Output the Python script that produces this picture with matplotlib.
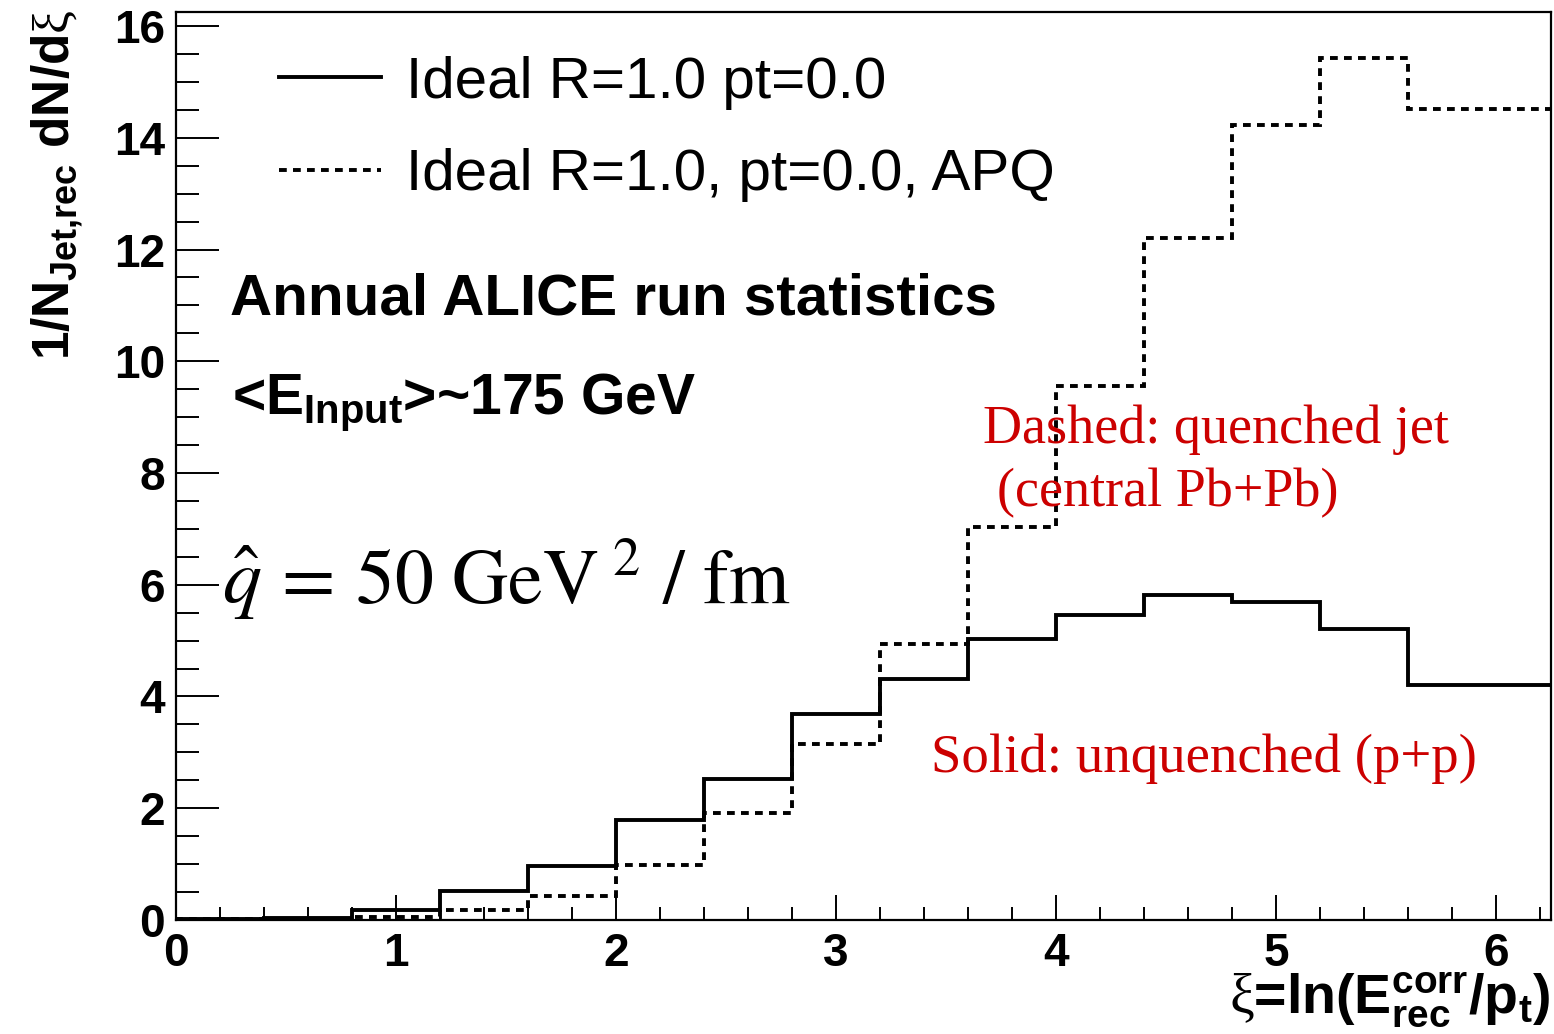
import numpy as np
import matplotlib
matplotlib.use('Agg')
import matplotlib.pyplot as plt

# bin edges in xi and normalised yields per bin
xi_edges = [0.0, 0.4, 0.8, 1.2, 1.6, 2.0, 2.4, 2.8, 3.2, 3.6, 4.0, 4.4, 4.8, 5.2, 5.6, 6.0, 6.4]
dn_pp = [0.01, 0.03, 0.18, 0.51, 0.96, 1.79, 2.52, 3.68, 4.31, 5.02, 5.45, 5.82, 5.70, 5.20, 4.20, 4.20]
dn_apq = [0.01, 0.02, 0.05, 0.18, 0.43, 0.99, 1.92, 3.15, 4.94, 7.03, 9.55, 12.20, 14.23, 15.42, 14.51, 14.51]

label_pp = 'Ideal R=1.0 pt=0.0'
label_apq = 'Ideal R=1.0, pt=0.0, APQ'

plt.rcParams['font.family'] = ['Liberation Sans', 'DejaVu Sans']
plt.rcParams['mathtext.fontset'] = 'custom'
plt.rcParams['mathtext.rm'] = 'Liberation Sans:bold'
plt.rcParams['mathtext.it'] = 'Liberation Sans:bold'
plt.rcParams['mathtext.bf'] = 'Liberation Sans:bold'
plt.rcParams['mathtext.sf'] = 'Liberation Serif'

fig = plt.figure(figsize=(15.54, 10.34), dpi=100)
ax = fig.add_axes([0.1133, 0.1103, 0.8847, 0.8780])

ax.stairs(dn_pp, xi_edges, color='black', linewidth=2.8, label=label_pp)
ax.stairs(dn_apq, xi_edges, color='black', linewidth=2.8,
          linestyle=(0, (2.0, 1.6)), label=label_apq)

ax.set_xlim(0, 6.25)
ax.set_ylim(0, 16.25)

# ROOT-like axis frame
for s in ax.spines.values():
    s.set_linewidth(1.6)
ax.set_xticks(np.arange(0, 7, 1))
ax.set_xticks(np.arange(0, 6.3, 0.2), minor=True)
ax.set_yticks(np.arange(0, 17, 2))
ax.set_yticks(np.arange(0, 16.3, 0.5), minor=True)
ax.tick_params(axis='both', which='both', direction='in', width=1.4,
               labelsize=33)
ax.tick_params(axis='x', which='major', length=18, pad=9)
ax.tick_params(axis='x', which='minor', length=9.5)
ax.tick_params(axis='y', which='major', length=31, pad=8)
ax.tick_params(axis='y', which='minor', length=16.5)
for t in ax.get_xticklabels() + ax.get_yticklabels():
    t.set_fontweight('bold')

ax.set_ylabel(r'$1/N_{Jet{,}rec}\ dN/d\mathsf{\xi}$', fontsize=37)
ax.yaxis.set_label_coords(-0.066, 0.81)
fig.text(0.998, 0.004, r'$\mathsf{\xi}$=ln(E$^{corr}_{rec}$/p$_{t}$)',
         fontsize=40, fontweight='bold', ha='right', va='bottom')

leg = ax.legend(loc='upper left', bbox_to_anchor=(0.075, 0.952), frameon=False,
                fontsize=42, handlelength=1.75, handletextpad=0.43,
                labelspacing=0.66, borderpad=0, borderaxespad=0)

ax.text(0.246, 10.84, 'Annual ALICE run statistics', fontsize=42,
        fontweight='bold', va='baseline')
ax.text(0.255, 9.05, r'<E$_{Input}$>~175 GeV', fontsize=41,
        fontweight='bold', va='baseline')
ax.text(0.21, 5.66, r'$\hat{q}\,=\,50\ \mathrm{GeV}^{\ 2}\ /\ \mathrm{fm}$',
        fontsize=56, va='baseline', math_fontfamily='stix')

red = '#cc0000'
ax.text(3.67, 8.54, 'Dashed: quenched jet', color=red, fontsize=39,
        family='Liberation Serif', va='baseline')
ax.text(3.73, 7.41, '(central Pb+Pb)', color=red, fontsize=39,
        family='Liberation Serif', va='baseline')
ax.text(3.43, 2.64, 'Solid: unquenched (p+p)', color=red, fontsize=39.5,
        family='Liberation Serif', va='baseline')

plt.savefig('out.png', dpi=100, facecolor='white')
